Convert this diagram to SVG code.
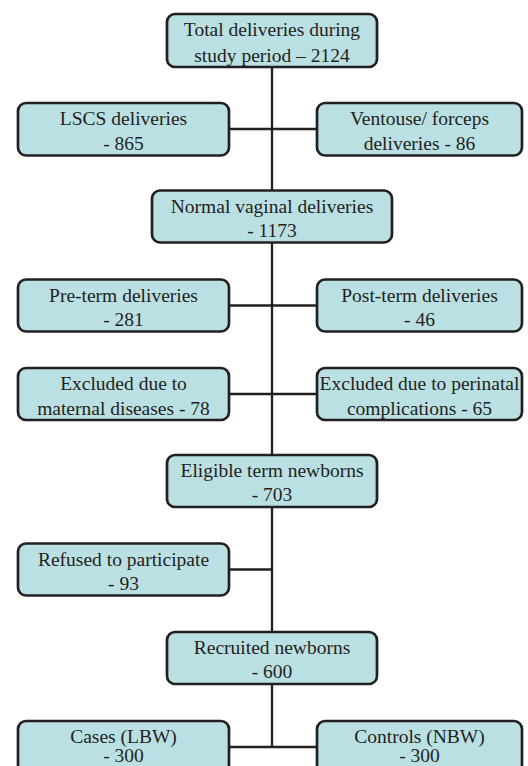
<svg xmlns="http://www.w3.org/2000/svg" width="528" height="766" viewBox="0 0 528 766">
<style>
.box{fill:#bbe0e3;stroke:#231f20;stroke-width:2.7}
text{font-family:'Liberation Serif','Times New Roman',serif;font-size:19.5px;fill:#231f20;text-anchor:middle}
.c{stroke:#231f20;stroke-width:2.3;fill:none}
</style>
<rect width="528" height="766" fill="#ffffff"/>
<g id="connectors">
<line class="c" x1="272" y1="67" x2="272" y2="748"/>
<line class="c" x1="229" y1="129" x2="317" y2="129"/>
<line class="c" x1="229" y1="305.5" x2="317" y2="305.5"/>
<line class="c" x1="229" y1="394" x2="317" y2="394"/>
<line class="c" x1="229" y1="569.5" x2="272" y2="569.5"/>
<line class="c" x1="229" y1="747" x2="317" y2="747"/>
</g>
<g id="total">
<rect class="box" x="167" y="14" width="210" height="53" rx="8"/>
<text x="272" y="36">Total deliveries during</text>
<text x="272" y="62">study period – 2124</text>
</g>
<g id="lscs">
<rect class="box" x="18" y="103" width="211" height="52.5" rx="8"/>
<text x="123.5" y="125">LSCS deliveries</text>
<text x="123.5" y="150">- 865</text>
</g>
<g id="ventouse">
<rect class="box" x="317" y="103" width="205" height="52.5" rx="8"/>
<text x="419.5" y="125">Ventouse/ forceps</text>
<text x="419.5" y="150">deliveries - 86</text>
</g>
<g id="normal">
<rect class="box" x="152" y="190.5" width="240" height="52" rx="8"/>
<text x="272" y="212.5">Normal vaginal deliveries</text>
<text x="272" y="236.5">- 1173</text>
</g>
<g id="preterm">
<rect class="box" x="18" y="279.5" width="211" height="52" rx="8"/>
<text x="123.5" y="301.5">Pre-term deliveries</text>
<text x="123.5" y="326">- 281</text>
</g>
<g id="postterm">
<rect class="box" x="317" y="279.5" width="205" height="52" rx="8"/>
<text x="419.5" y="301.5">Post-term deliveries</text>
<text x="419.5" y="326">- 46</text>
</g>
<g id="maternal">
<rect class="box" x="18" y="368" width="211" height="52" rx="8"/>
<text x="123.5" y="390">Excluded due to</text>
<text x="123.5" y="414.5">maternal diseases - 78</text>
</g>
<g id="perinatal">
<rect class="box" x="317" y="368" width="205" height="52" rx="8"/>
<text x="419.5" y="390">Excluded due to perinatal</text>
<text x="419.5" y="414.5">complications - 65</text>
</g>
<g id="eligible">
<rect class="box" x="167" y="455" width="210" height="52" rx="8"/>
<text x="272" y="477">Eligible term newborns</text>
<text x="272" y="501">- 703</text>
</g>
<g id="refused">
<rect class="box" x="18" y="543.5" width="211" height="52" rx="8"/>
<text x="123.5" y="565.5">Refused to participate</text>
<text x="123.5" y="590">- 93</text>
</g>
<g id="recruited">
<rect class="box" x="167" y="632" width="210" height="52" rx="8"/>
<text x="272" y="654">Recruited newborns</text>
<text x="272" y="678">- 600</text>
</g>
<g id="cases">
<rect class="box" x="18" y="721" width="211" height="52" rx="8"/>
<text x="123.5" y="743">Cases (LBW)</text>
<text x="123.5" y="762">- 300</text>
</g>
<g id="controls">
<rect class="box" x="317" y="721" width="205" height="52" rx="8"/>
<text x="419.5" y="743">Controls (NBW)</text>
<text x="419.5" y="762">- 300</text>
</g>
</svg>
